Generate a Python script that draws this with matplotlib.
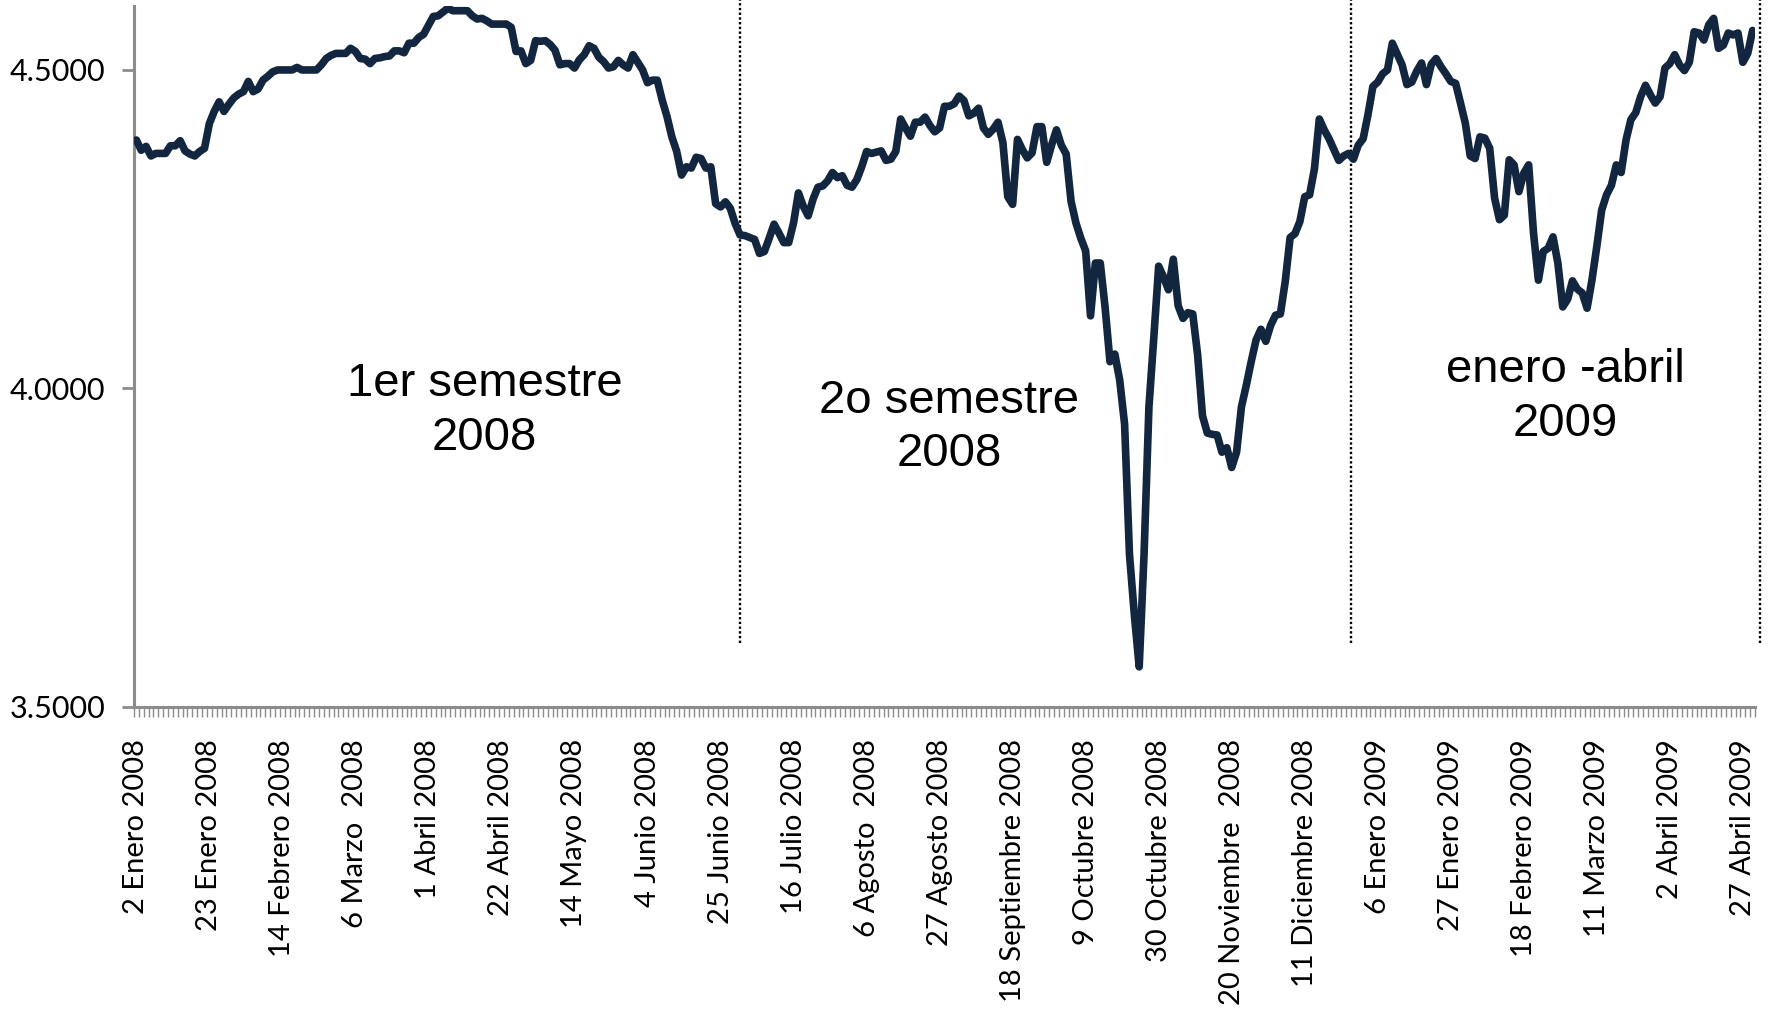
import matplotlib
matplotlib.use('Agg')
import matplotlib.pyplot as plt
from matplotlib.ticker import FormatStrFormatter, FixedLocator
import numpy as np

# daily values, 2 Jan 2008 - end of April 2009
tipo = [
    4.390, 4.374, 4.380, 4.365, 4.369, 4.369, 4.369, 4.381, 4.381, 4.389,
    4.373, 4.368, 4.365, 4.372, 4.377, 4.416, 4.435, 4.450, 4.435, 4.446,
    4.456, 4.462, 4.466, 4.482, 4.466, 4.470, 4.484, 4.490, 4.497, 4.500,
    4.500, 4.500, 4.500, 4.504, 4.500, 4.500, 4.500, 4.500, 4.508, 4.518,
    4.523, 4.526, 4.526, 4.526, 4.534, 4.529, 4.518, 4.517, 4.510, 4.518,
    4.519, 4.521, 4.522, 4.530, 4.530, 4.527, 4.542, 4.542, 4.551, 4.556,
    4.570, 4.584, 4.585, 4.591, 4.597, 4.593, 4.593, 4.593, 4.593, 4.585,
    4.580, 4.581, 4.577, 4.572, 4.572, 4.572, 4.572, 4.567, 4.529, 4.530,
    4.510, 4.515, 4.546, 4.545, 4.546, 4.540, 4.531, 4.508, 4.510, 4.510,
    4.503, 4.516, 4.524, 4.538, 4.534, 4.520, 4.513, 4.503, 4.505, 4.515,
    4.508, 4.503, 4.524, 4.512, 4.500, 4.480, 4.484, 4.484, 4.453, 4.427,
    4.395, 4.372, 4.335, 4.348, 4.346, 4.363, 4.361, 4.346, 4.348, 4.290,
    4.285, 4.293, 4.283, 4.259, 4.241, 4.240, 4.237, 4.234, 4.212, 4.215,
    4.236, 4.258, 4.244, 4.229, 4.229, 4.260, 4.307, 4.286, 4.271, 4.297,
    4.316, 4.318, 4.326, 4.339, 4.331, 4.334, 4.319, 4.316, 4.328, 4.348,
    4.372, 4.369, 4.371, 4.373, 4.358, 4.360, 4.372, 4.423, 4.409, 4.396,
    4.418, 4.418, 4.426, 4.413, 4.403, 4.409, 4.443, 4.443, 4.447, 4.459,
    4.452, 4.428, 4.432, 4.440, 4.409, 4.399, 4.407, 4.418, 4.386, 4.301,
    4.289, 4.391, 4.375, 4.362, 4.370, 4.411, 4.411, 4.355, 4.382, 4.406,
    4.382, 4.368, 4.294, 4.260, 4.236, 4.216, 4.114, 4.197, 4.197, 4.127,
    4.042, 4.054, 4.013, 3.944, 3.740, 3.645, 3.563, 3.740, 3.971, 4.080,
    4.192, 4.175, 4.155, 4.203, 4.130, 4.110, 4.119, 4.117, 4.053, 3.957,
    3.930, 3.928, 3.927, 3.900, 3.907, 3.876, 3.900, 3.971, 4.005, 4.042,
    4.076, 4.093, 4.074, 4.099, 4.115, 4.117, 4.168, 4.237, 4.243, 4.262,
    4.301, 4.304, 4.345, 4.423, 4.406, 4.392, 4.375, 4.358, 4.365, 4.369,
    4.360, 4.382, 4.392, 4.430, 4.474, 4.481, 4.494, 4.500, 4.542, 4.525,
    4.508, 4.477, 4.481, 4.498, 4.511, 4.477, 4.509, 4.518, 4.505, 4.494,
    4.482, 4.479, 4.448, 4.416, 4.365, 4.361, 4.395, 4.393, 4.377, 4.299,
    4.265, 4.272, 4.359, 4.351, 4.309, 4.338, 4.351, 4.244, 4.170, 4.215,
    4.220, 4.238, 4.197, 4.128, 4.140, 4.169, 4.156, 4.150, 4.126, 4.170,
    4.223, 4.280, 4.304, 4.319, 4.351, 4.339, 4.390, 4.422, 4.433, 4.458,
    4.476, 4.461, 4.448, 4.458, 4.503, 4.510, 4.524, 4.508, 4.499, 4.512,
    4.560, 4.558, 4.547, 4.571, 4.581, 4.534, 4.539, 4.558, 4.555, 4.558,
    4.512, 4.526, 4.562,
]

# one label every 15 trading days
fechas = ['2 Enero 2008', '23 Enero 2008', '14 Febrero 2008', '6 Marzo  2008',
          '1 Abril 2008', '22 Abril 2008', '14 Mayo 2008', '4 Junio 2008',
          '25 Junio 2008', '16 Julio 2008', '6 Agosto  2008', '27 Agosto 2008',
          '18 Septiembre 2008', '9 Octubre 2008', '30 Octubre 2008',
          '20 Noviembre  2008', '11 Diciembre 2008', '6 Enero 2009',
          '27 Enero 2009', '18 Febrero 2009', '11 Marzo 2009', '2 Abril 2009',
          '27 Abril 2009']
paso = 15

# period separators (category position) and period names
separadores = [124.0, 249.6, 333.5]
periodos = ['1er semestre\n2008', '2o semestre\n2008', 'enero -abril\n2009']
periodos_pos = [(0.274, 0.593), (0.5365, 0.577), (0.885, 0.607)]

gris = '#8C8C8C'
fuente = ['Lato', 'DejaVu Sans']

fig = plt.figure(figsize=(17.69, 10.10), dpi=100)
ax = fig.add_axes([0.0757, 0.300, 0.9164, 0.6938])

x = np.arange(len(tipo))
ax.plot(x, tipo, color='#13263F', lw=5.5, solid_joinstyle='round', solid_capstyle='round', zorder=3)

ax.set_xlim(-0.5, len(tipo) - 0.5)
ax.set_ylim(3.5, 4.6)

for s in separadores:
    ax.plot([s, s], [3.60, 4.62], color='black', lw=1.7, dashes=(1, 1.0), clip_on=False, zorder=2)

for txt, (px, py) in zip(periodos, periodos_pos):
    fig.text(px, py, txt, ha='center', va='center', fontsize=34, linespacing=1.27,
             family=['Liberation Sans', 'DejaVu Sans'], color='black')

for side in ['top', 'right']:
    ax.spines[side].set_visible(False)
for side in ['left', 'bottom']:
    ax.spines[side].set_color(gris)
    ax.spines[side].set_linewidth(2.2)

ax.set_yticks([3.5, 4.0, 4.5])
ax.yaxis.set_major_formatter(FormatStrFormatter('%.4f'))
ax.tick_params(axis='y', length=8.6, width=2, color=gris, pad=12, labelsize=22)

ax.set_xticks(x[::paso])
ax.set_xticklabels(fechas, rotation=90)
ax.xaxis.set_minor_locator(FixedLocator(np.arange(len(tipo) + 1) - 0.5))
ax.tick_params(axis='x', which='major', length=0, pad=23, labelsize=21)
ax.tick_params(axis='x', which='minor', length=7, width=1, color=gris)

for lab in ax.get_xticklabels() + ax.get_yticklabels():
    lab.set_family(fuente)

fig.savefig('out.png', dpi=100, facecolor='white')
